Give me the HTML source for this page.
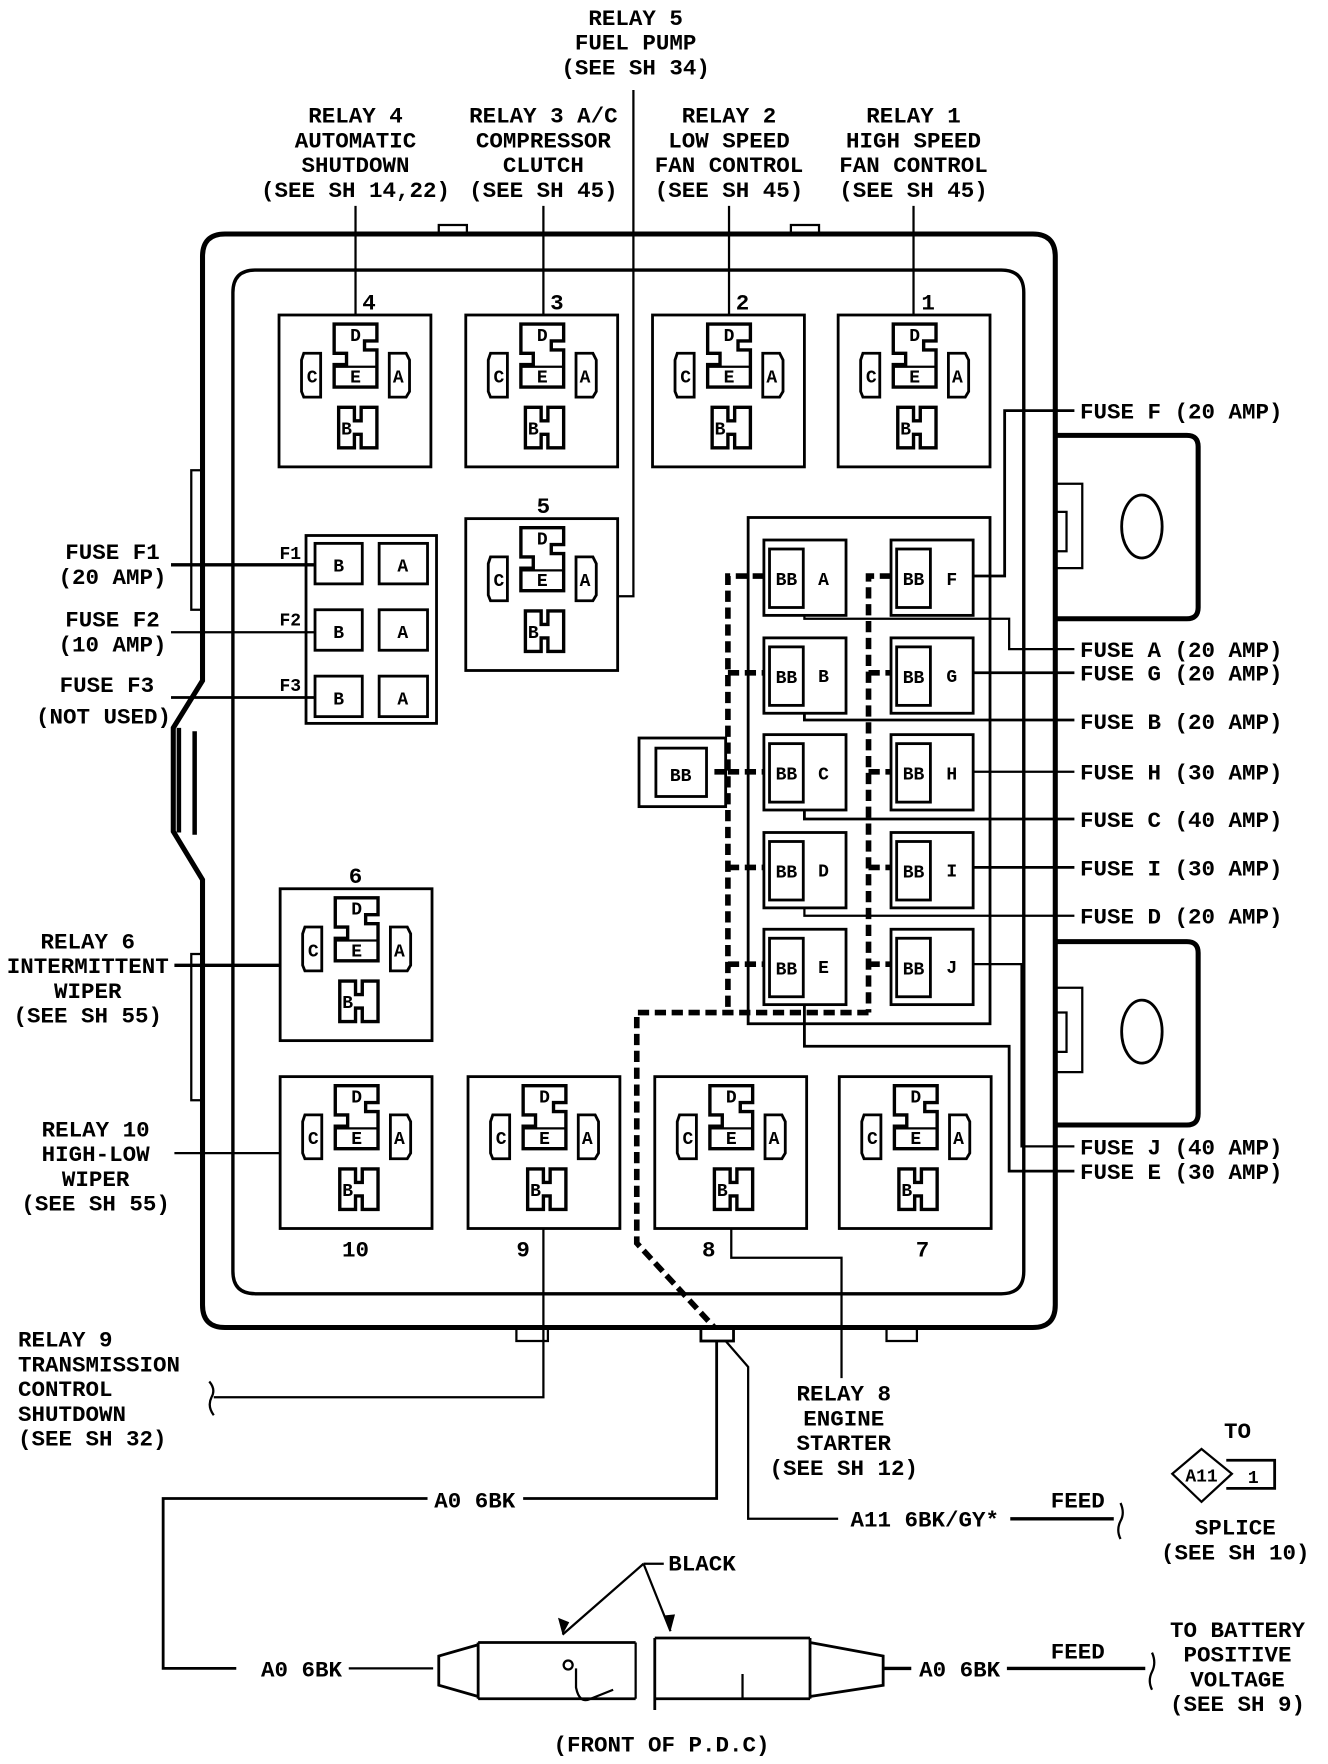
<!DOCTYPE html>
<html><head><meta charset="utf-8"><style>
html,body{margin:0;padding:0;background:#fff;}
svg{display:block;}
text{font-family:"Liberation Mono",monospace;font-weight:bold;font-size:20px;fill:#000;}
.m{text-anchor:middle;}
.s{font-size:16px;}
</style></head><body>
<svg width="1328" height="1764" viewBox="0 0 1180.4 1568" xmlns="http://www.w3.org/2000/svg">
<defs>
<g id="relay">
<rect x="0" y="0" width="135" height="135" fill="none" stroke="#000" stroke-width="2.5"/>
<path d="M22,34 H37 V73 H22 L20,68 V40 Z" fill="none" stroke="#000" stroke-width="2.5"/>
<text x="29.5" y="60" class="m s">C</text>
<path d="M98,34 H113 L116,40 V68 L113,73 H98 Z" fill="none" stroke="#000" stroke-width="2.5"/>
<text x="106" y="60" class="m s">A</text>
<path d="M49,8 H87 V23 H76 V31 H87 V64 H49 V44 H60 V34 H49 Z" fill="none" stroke="#000" stroke-width="3"/>
<line x1="49" y1="46" x2="87" y2="46" stroke="#000" stroke-width="2"/>
<text x="68" y="23" class="m s">D</text>
<text x="68" y="60" class="m s">E</text>
<path d="M53,82 H67 V94 H73 V82 H87 V118 H73 V106 H67 V118 H53 Z" fill="none" stroke="#000" stroke-width="3"/>
<text x="60" y="106" class="m s">B</text>
</g>
<g id="fuse">
<rect x="0" y="0" width="73" height="67" fill="none" stroke="#000" stroke-width="2.5"/>
<rect x="5" y="8" width="30" height="52" fill="none" stroke="#000" stroke-width="2.5"/>
<text x="20" y="40" class="m s">BB</text>
</g>
</defs>

<!-- top labels -->
<g class="m">
<text x="565" y="22" class="m">RELAY 5</text><text x="565" y="44" class="m">FUEL PUMP</text><text x="565" y="66" class="m">(SEE SH 34)</text>
<text x="316" y="109" class="m">RELAY 4</text><text x="316" y="131" class="m">AUTOMATIC</text><text x="316" y="153" class="m">SHUTDOWN</text><text x="316" y="175" class="m">(SEE SH 14,22)</text>
<text x="483" y="109" class="m">RELAY 3 A/C</text><text x="483" y="131" class="m">COMPRESSOR</text><text x="483" y="153" class="m">CLUTCH</text><text x="483" y="175" class="m">(SEE SH 45)</text>
<text x="648" y="109" class="m">RELAY 2</text><text x="648" y="131" class="m">LOW SPEED</text><text x="648" y="153" class="m">FAN CONTROL</text><text x="648" y="175" class="m">(SEE SH 45)</text>
<text x="812" y="109" class="m">RELAY 1</text><text x="812" y="131" class="m">HIGH SPEED</text><text x="812" y="153" class="m">FAN CONTROL</text><text x="812" y="175" class="m">(SEE SH 45)</text>
</g>

<g fill="none" stroke="#000">
<!-- top tabs -->
<rect x="390" y="200" width="25" height="9" stroke-width="2"/>
<rect x="703" y="200" width="25" height="9" stroke-width="2"/>
<!-- outer box -->
<path d="M200,208 H918 Q938,208 938,228 V1160 Q938,1180 918,1180 H200 Q180,1180 180,1160 V782 L154,739 V647 L180,605 V228 Q180,208 200,208 Z" stroke-width="4.5"/>
<rect x="170" y="418" width="10" height="124" stroke-width="2"/>
<rect x="170" y="848" width="10" height="130" stroke-width="2"/>
<line x1="159" y1="647" x2="159" y2="740" stroke-width="4"/>
<line x1="173" y1="650" x2="173" y2="742" stroke-width="4"/>
<!-- inner box -->
<path d="M227,240 H890 Q910,240 910,260 V1130 Q910,1150 890,1150 H227 Q207,1150 207,1130 V260 Q207,240 227,240 Z" stroke-width="3"/>
<!-- right brackets -->
<path d="M938,387 H1055 Q1065,387 1065,397 V540 Q1065,550 1055,550 H938" stroke-width="4.5"/>
<rect x="938" y="430" width="24" height="75" stroke-width="2"/>
<rect x="938" y="455" width="10" height="35" stroke-width="2"/>
<ellipse cx="1015" cy="468" rx="18" ry="28" stroke-width="2.5"/>
<path d="M938,837 H1055 Q1065,837 1065,847 V990 Q1065,1000 1055,1000 H938" stroke-width="4.5"/>
<rect x="938" y="878" width="24" height="75" stroke-width="2"/>
<rect x="938" y="900" width="10" height="35" stroke-width="2"/>
<ellipse cx="1015" cy="917" rx="18" ry="28" stroke-width="2.5"/>
<!-- bottom tabs -->
<rect x="459" y="1180" width="28" height="12" stroke-width="2"/>
<rect x="623" y="1180" width="29" height="12" stroke-width="2.5"/>
<rect x="788" y="1180" width="27" height="12" stroke-width="2"/>
</g>

<!-- relays -->
<use href="#relay" x="248" y="280"/><use href="#relay" x="414" y="280"/><use href="#relay" x="580" y="280"/><use href="#relay" x="745" y="280"/>
<use href="#relay" x="414" y="461"/>
<use href="#relay" x="249" y="790"/>
<use href="#relay" x="249" y="957"/><use href="#relay" x="416" y="957"/><use href="#relay" x="582" y="957"/><use href="#relay" x="746" y="957"/>
<text x="328" y="275" class="m">4</text><text x="495" y="275" class="m">3</text><text x="660" y="275" class="m">2</text><text x="825" y="275" class="m">1</text>
<text x="483" y="456" class="m">5</text><text x="316" y="785" class="m">6</text>
<text x="316" y="1117" class="m">10</text><text x="465" y="1117" class="m">9</text><text x="630" y="1117" class="m">8</text><text x="820" y="1117" class="m">7</text>

<!-- F fuse block -->
<g fill="none" stroke="#000" stroke-width="2.5">
<rect x="272" y="476" width="116" height="167"/>
<rect x="280" y="483" width="42" height="36"/><rect x="337" y="483" width="43" height="36"/>
<rect x="280" y="542" width="42" height="36"/><rect x="337" y="542" width="43" height="36"/>
<rect x="280" y="601" width="42" height="36"/><rect x="337" y="601" width="43" height="36"/>
</g>
<text x="301" y="508" class="m s">B</text><text x="358" y="508" class="m s">A</text>
<text x="301" y="567" class="m s">B</text><text x="358" y="567" class="m s">A</text>
<text x="301" y="626" class="m s">B</text><text x="358" y="626" class="m s">A</text>
<text x="258" y="497" class="m s">F1</text><text x="258" y="556" class="m s">F2</text><text x="258" y="614" class="m s">F3</text>

<!-- fuse panel -->
<rect x="665" y="460" width="215" height="450" fill="none" stroke="#000" stroke-width="2.5"/>
<use href="#fuse" x="679" y="480"/><use href="#fuse" x="679" y="567"/><use href="#fuse" x="679" y="653"/><use href="#fuse" x="679" y="740"/><use href="#fuse" x="679" y="826"/>
<use href="#fuse" x="792" y="480"/><use href="#fuse" x="792" y="567"/><use href="#fuse" x="792" y="653"/><use href="#fuse" x="792" y="740"/><use href="#fuse" x="792" y="826"/>
<text x="732" y="520" class="m s">A</text><text x="732" y="606" class="m s">B</text><text x="732" y="693" class="m s">C</text><text x="732" y="779" class="m s">D</text><text x="732" y="865" class="m s">E</text>
<text x="846" y="520" class="m s">F</text><text x="846" y="606" class="m s">G</text><text x="846" y="693" class="m s">H</text><text x="846" y="779" class="m s">I</text><text x="846" y="865" class="m s">J</text>
<rect x="568" y="656" width="77" height="61" fill="none" stroke="#000" stroke-width="2.5"/>
<rect x="583" y="665" width="45" height="43" fill="none" stroke="#000" stroke-width="2.5"/>
<text x="605" y="694" class="m s">BB</text>

<!-- dashed -->
<g fill="none" stroke="#000" stroke-width="5" stroke-dasharray="10,5">
<path d="M679,512 H647 V900"/><path d="M647,598 H679 M647,686 H679 M647,771 H679 M647,857 H679 M645,686 H630"/>
<path d="M792,512 H772 V900"/><path d="M772,598 H792 M772,686 H792 M772,771 H792 M772,857 H792"/>
<path d="M772,900 H566 V1105 L635,1180"/>
</g>

<!-- leaders -->
<g fill="none" stroke="#000" stroke-width="2">
<path d="M316,183 V280 M483,183 V280 M648,183 V280 M812,183 V280"/>
<path d="M563,80 V530 H548"/>
<path d="M866,512 H893 V365 H955" stroke-width="2.5"/>
<path d="M715,547 V550 H897 V577 H955"/>
<path d="M866,598 H955" stroke-width="2.5"/>
<path d="M715,634 V640 H955" stroke-width="2.5"/>
<path d="M866,686 H955"/>
<path d="M715,720 V728 H955" stroke-width="2.5"/>
<path d="M866,771 H955" stroke-width="2.5"/>
<path d="M715,807 V814 H955"/>
<path d="M866,857 H908 V1019 H955"/>
<path d="M715,893 V930 H897 V1041 H955" stroke-width="2.5"/>
<path d="M152,502 H280" stroke-width="3"/>
<path d="M152,562 H280"/>
<path d="M152,620 H280" stroke-width="2.5"/>
<path d="M155,858 H249" stroke-width="3"/>
<path d="M155,1025 H249"/>
<path d="M483,1092 V1242 H190"/>
<path d="M186,1228 Q192,1235 188,1242 Q184,1250 190,1258"/>
<path d="M650,1092 V1118 H748 V1225"/>
<path d="M637,1192 V1332 H465" stroke-width="2.5"/>
<path d="M380,1332 H145 V1483 H210" stroke-width="2.5"/>
<path d="M310,1483 H385"/>
<path d="M645,1192 L665,1215 V1350 H745"/>
<path d="M898,1350 H990" stroke-width="3"/>
<path d="M996,1336 Q1000,1345 996,1352 Q992,1360 996,1368"/>
<path d="M785,1483 H810" stroke-width="3"/>
<path d="M895,1483 H1018" stroke-width="3"/>
<path d="M1024,1469 Q1028,1478 1024,1486 Q1020,1494 1024,1502"/>
<!-- connectors -->
<path d="M425,1460 H565 M425,1510 H565 M425,1460 V1510 M425,1462 L390,1472 V1498 L425,1508" stroke-width="2.5"/>
<path d="M565,1460 V1510"/>
<circle cx="505" cy="1480" r="4"/>
<path d="M512,1483 V1500 Q515,1515 525,1510 L545,1502"/>
<path d="M582,1456 H720 M582,1510 H720 M582,1456 V1520 M720,1456 V1510 M720,1460 L785,1472 V1498 L720,1508" stroke-width="2.5"/>
<path d="M660,1488 V1510"/>
<!-- black arrows -->
<path d="M572,1390 H590 M572,1390 L500,1453 M572,1390 L596,1450"/>
<!-- splice -->
<path d="M1068,1288 L1095,1310 L1068,1335 L1042,1310 Z" stroke-width="2"/>
<path d="M1090,1298 H1133 V1323 H1090" stroke-width="2.5"/>
</g>
<path d="M500,1453 L496,1438 L506,1442 Z M596,1450 L590,1436 L600,1435 Z" fill="#000"/>

<!-- right labels -->
<text x="960" y="372">FUSE F (20 AMP)</text>
<text x="960" y="584">FUSE A (20 AMP)</text>
<text x="960" y="605">FUSE G (20 AMP)</text>
<text x="960" y="648">FUSE B (20 AMP)</text>
<text x="960" y="693">FUSE H (30 AMP)</text>
<text x="960" y="735">FUSE C (40 AMP)</text>
<text x="960" y="778">FUSE I (30 AMP)</text>
<text x="960" y="821">FUSE D (20 AMP)</text>
<text x="960" y="1026">FUSE J (40 AMP)</text>
<text x="960" y="1048">FUSE E (30 AMP)</text>

<!-- left labels -->
<text x="100" y="497" class="m">FUSE F1</text><text x="100" y="519" class="m">(20 AMP)</text>
<text x="100" y="557" class="m">FUSE F2</text><text x="100" y="579" class="m">(10 AMP)</text>
<text x="95" y="615" class="m">FUSE F3</text><text x="92" y="643" class="m">(NOT USED)</text>
<text x="78" y="843" class="m">RELAY 6</text><text x="78" y="865" class="m">INTERMITTENT</text><text x="78" y="887" class="m">WIPER</text><text x="78" y="909" class="m">(SEE SH 55)</text>
<text x="85" y="1010" class="m">RELAY 10</text><text x="85" y="1032" class="m">HIGH-LOW</text><text x="85" y="1054" class="m">WIPER</text><text x="85" y="1076" class="m">(SEE SH 55)</text>
<text x="16" y="1197">RELAY 9</text><text x="16" y="1219">TRANSMISSION</text><text x="16" y="1241">CONTROL</text><text x="16" y="1263">SHUTDOWN</text><text x="16" y="1285">(SEE SH 32)</text>
<text x="750" y="1245" class="m">RELAY 8</text><text x="750" y="1267" class="m">ENGINE</text><text x="750" y="1289" class="m">STARTER</text><text x="750" y="1311" class="m">(SEE SH 12)</text>

<!-- bottom labels -->
<text x="422" y="1340" class="m">A0 6BK</text>
<text x="822" y="1357" class="m">A11 6BK/GY*</text>
<text x="958" y="1340" class="m">FEED</text>
<text x="1100" y="1278" class="m">TO</text>
<text x="1068" y="1317" class="m s">A11</text>
<text x="1114" y="1318" class="m s">1</text>
<text x="1098" y="1364" class="m">SPLICE</text><text x="1098" y="1386" class="m">(SEE SH 10)</text>
<text x="624" y="1396" class="m">BLACK</text>
<text x="268" y="1490" class="m">A0 6BK</text>
<text x="853" y="1490" class="m">A0 6BK</text>
<text x="958" y="1474" class="m">FEED</text>
<text x="1100" y="1455" class="m">TO BATTERY</text><text x="1100" y="1477" class="m">POSITIVE</text><text x="1100" y="1499" class="m">VOLTAGE</text><text x="1100" y="1521" class="m">(SEE SH 9)</text>
<text x="588" y="1557" class="m">(FRONT OF P.D.C)</text>
</svg>
</body></html>
